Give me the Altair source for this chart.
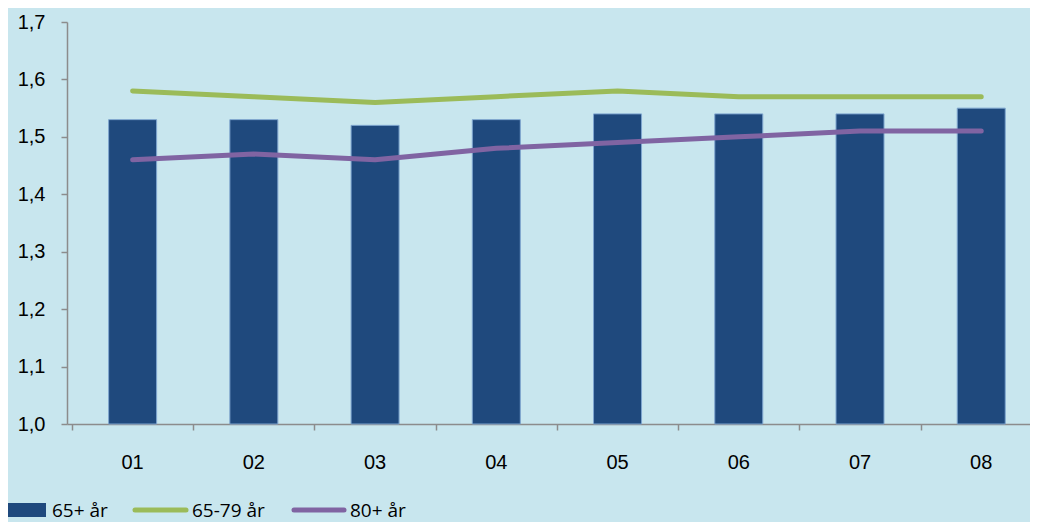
import altair as alt
import pandas as pd

categories = ["01", "02", "03", "04", "05", "06", "07", "08"]
bar_values = [1.53, 1.53, 1.52, 1.53, 1.54, 1.54, 1.54, 1.55]
line_65_79 = [1.58, 1.57, 1.56, 1.57, 1.58, 1.57, 1.57, 1.57]
line_80 = [1.46, 1.47, 1.46, 1.48, 1.49, 1.50, 1.51, 1.51]
series_names = ["65+ år", "65-79 år", "80+ år"]
y_ticks = [1.0, 1.1, 1.2, 1.3, 1.4, 1.5, 1.6, 1.7]
colors = ["#1F497D", "#9BBB59", "#8064A2"]

W, H = 963, 402
BG = "#C8E6EE"
AXC = "#8C8C8C"

pos = list(range(1, len(categories) + 1))
bars_df = pd.DataFrame({"pos": pos, "cat": categories, "value": bar_values,
                        "base": [y_ticks[0]] * len(pos)})
lines_df = pd.DataFrame({
    "pos": pos + pos,
    "value": line_65_79 + line_80,
    "series": [series_names[1]] * len(pos) + [series_names[2]] * len(pos),
})

x_scale = alt.Scale(domain=[0.5, 8.361], nice=False, zero=False)
y_scale = alt.Scale(domain=[1.0, 1.7], nice=False, zero=False)

x_axis = alt.Axis(values=[p - 0.5 for p in pos], labels=False, title=None, grid=False,
                  domainColor=AXC, tickColor=AXC, tickSize=6, domainWidth=1.5, tickWidth=1.5)
y_axis = alt.Axis(values=y_ticks, labelExpr="replace(format(datum.value, '.1f'), '.', ',')",
                  title=None, grid=False, domainColor=AXC, tickColor=AXC, tickSize=6,
                  domainWidth=1.5, tickWidth=1.5, labelFont="Liberation Sans",
                  labelFontSize=20, labelColor="black", labelPadding=16)

bars = alt.Chart(bars_df).mark_bar(size=48, color=colors[0], stroke="#7FA6CF",
                                   strokeWidth=1).encode(
    x=alt.X("pos:Q", scale=x_scale, axis=x_axis),
    y=alt.Y("value:Q", scale=y_scale, axis=y_axis),
    y2="base:Q",
)

lines = alt.Chart(lines_df).mark_line(strokeWidth=5, strokeCap="round",
                                      strokeJoin="round").encode(
    x=alt.X("pos:Q", scale=x_scale),
    y=alt.Y("value:Q", scale=y_scale),
    color=alt.Color("series:N", scale=alt.Scale(domain=series_names[1:], range=colors[1:]),
                    legend=None),
)

xlabels = alt.Chart(bars_df).mark_text(fontSize=20, font="Liberation Sans", color="black",
                                       baseline="middle").encode(
    x=alt.X("pos:Q", scale=x_scale),
    y=alt.value(H + 39),
    text="cat:N",
)

# manual legend
LY = 488
leg_df = pd.DataFrame({"name": series_names})
leg_rect = alt.Chart(leg_df).transform_filter(alt.datum.name == series_names[0]).mark_rect(
    color=colors[0]).encode(x=alt.value(-62), x2=alt.value(-21), y=alt.value(LY - 7),
                            y2=alt.value(LY + 7))
leg_g = alt.Chart(leg_df).transform_filter(alt.datum.name == series_names[1]).mark_rule(
    color=colors[1], strokeWidth=5, strokeCap="round").encode(
    x=alt.value(68), x2=alt.value(119), y=alt.value(LY))
leg_p = alt.Chart(leg_df).transform_filter(alt.datum.name == series_names[2]).mark_rule(
    color=colors[2], strokeWidth=5, strokeCap="round").encode(
    x=alt.value(227), x2=alt.value(277), y=alt.value(LY))
leg_text_x = [-15, 125, 283]
leg_texts = []
for name, tx in zip(series_names, leg_text_x):
    leg_texts.append(
        alt.Chart(leg_df).transform_filter(alt.datum.name == name).mark_text(
            font="Open Sans", fontSize=19, color="black", align="left", baseline="middle"
        ).encode(x=alt.value(tx), y=alt.value(LY + 1), text="name:N")
    )

chart = alt.layer(bars, lines, xlabels, leg_rect, leg_g, leg_p, *leg_texts).properties(
    width=W, height=H,
    padding={"left": 59, "top": 14, "right": 0, "bottom": 98},
    autosize=alt.AutoSizeParams(type="none"),
    background=BG,
).configure_view(stroke=None)

chart.save("out.html", embed_options={"renderer": "svg", "actions": False})
